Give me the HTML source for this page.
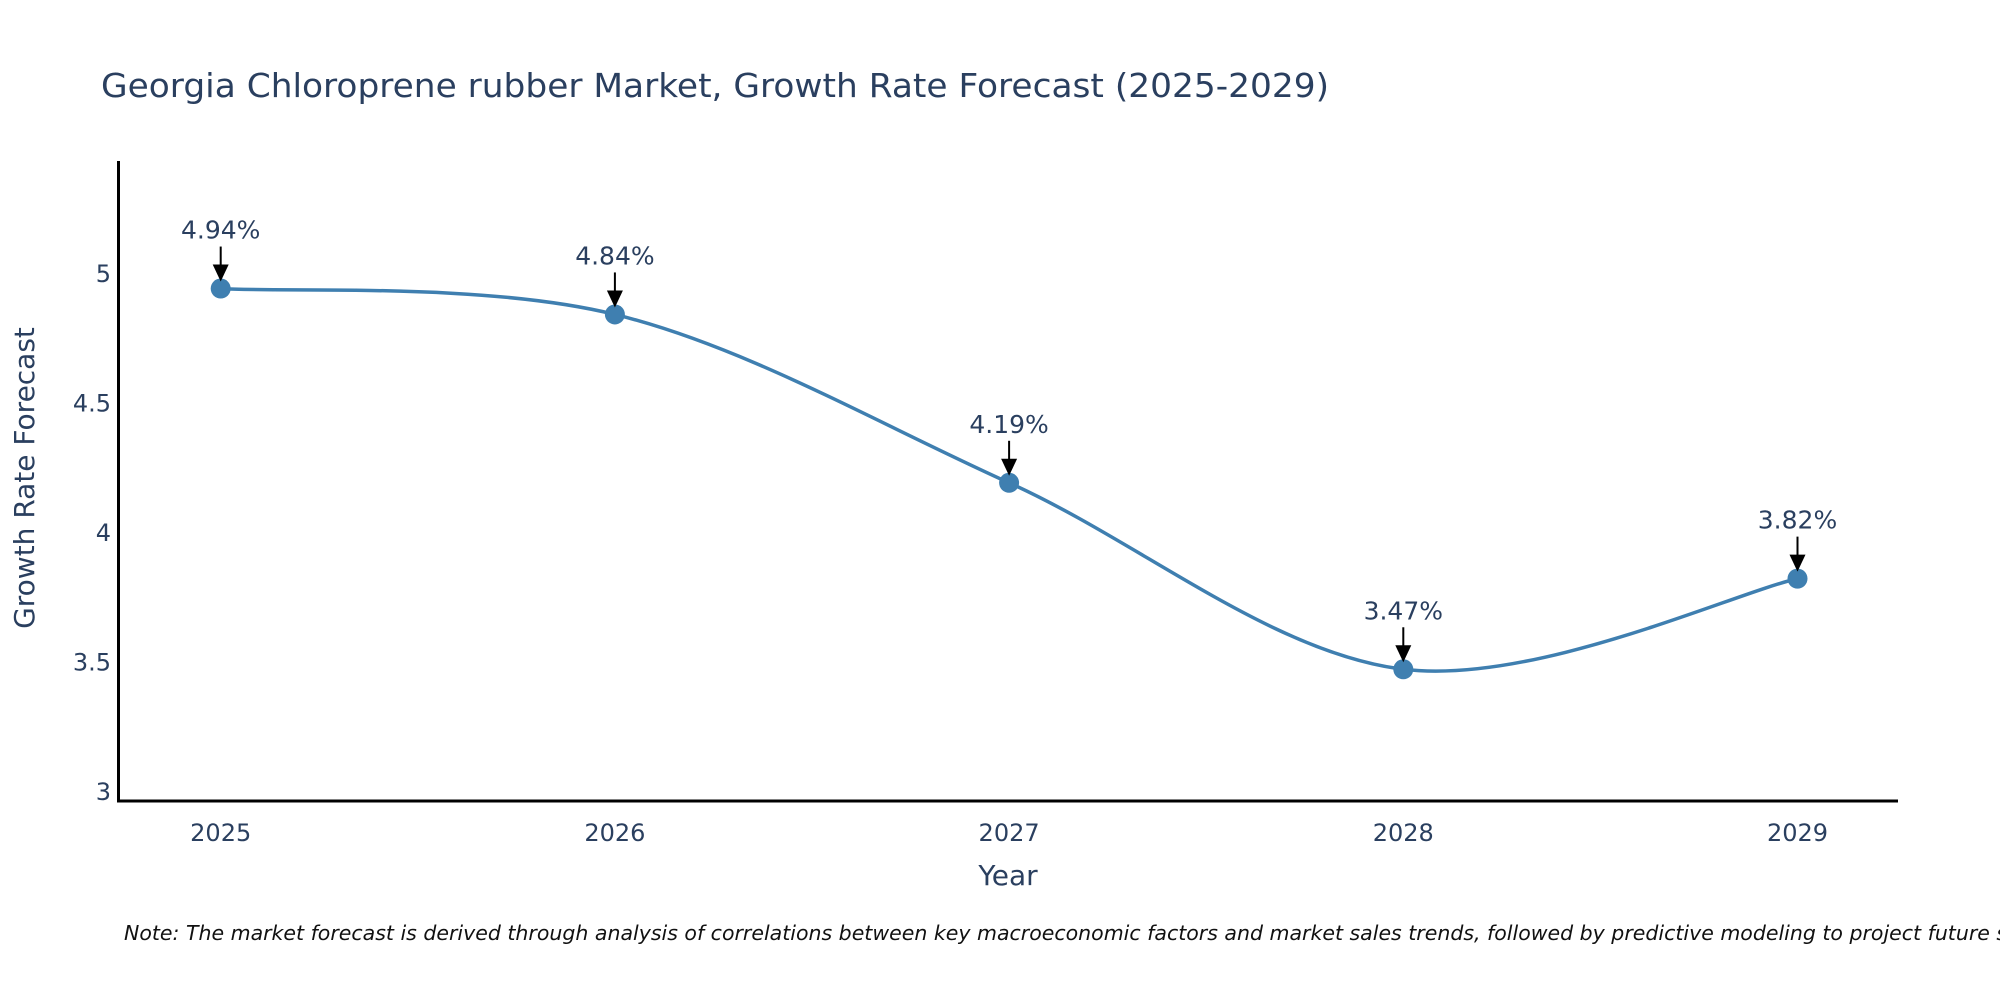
<!DOCTYPE html>
<html><head><meta charset="utf-8"><style>
html,body{margin:0;padding:0;background:#fff;}
svg{display:block;font-family:"DejaVu Sans","Liberation Sans",sans-serif;}
</style></head><body>
<svg id="chart" width="2000" height="1000" viewBox="0 0 2000 1000">
<rect width="2000" height="1000" fill="#fff"/>
<text x="101" y="97" font-size="33" fill="#2a3f5f" textLength="1228" lengthAdjust="spacingAndGlyphs">Georgia Chloroprene rubber Market, Growth Rate Forecast (2025-2029)</text>
<g id="yticks"></g>
<g id="xticks"></g>
<g id="series"></g>
<line x1="118.5" y1="161" x2="118.5" y2="802" stroke="#000" stroke-width="3"/>
<line x1="117" y1="801" x2="1898" y2="801" stroke="#000" stroke-width="3"/>
<text x="1008" y="885" font-size="28" fill="#2a3f5f" text-anchor="middle">Year</text>
<text x="0" y="0" font-size="28" fill="#2a3f5f" text-anchor="middle" transform="translate(34,478) rotate(-90)">Growth Rate Forecast</text>
<text x="124" y="940" font-size="20.5" font-style="italic" fill="#111">Note: The market forecast is derived through analysis of correlations between key macroeconomic factors and market sales trends, followed by predictive modeling to project future sales.</text>
</svg>
<script>
const years = [2025, 2026, 2027, 2028, 2029];
const growth = [4.94, 4.84, 4.19, 3.47, 3.82];
const yTickValues = [3, 3.5, 4, 4.5, 5];
const yTickLabels = ["3", "3.5", "4", "4.5", "5"];

const NS = "http://www.w3.org/2000/svg";
function xScale(v){ return 220.7 + (v - 2025) * 394.2; }
function yScale(v){ return 791 - (v - 3) * 259; }
function mk(tag, attrs, parent){
  const e = document.createElementNS(NS, tag);
  for (const k in attrs) e.setAttribute(k, attrs[k]);
  parent.appendChild(e);
  return e;
}
const yt = document.getElementById('yticks');
yTickValues.forEach((v, i) => {
  const t = mk('text', {x: 111, y: yScale(v) + 9, 'font-size': 24, fill: '#2a3f5f', 'text-anchor': 'end'}, yt);
  
  
  t.textContent = yTickLabels[i];
});
const xt = document.getElementById('xticks');
years.forEach(y => {
  const t = mk('text', {x: xScale(y), y: 841, 'font-size': 24, fill: '#2a3f5f', 'text-anchor': 'middle'}, xt);
  
  
  t.textContent = String(y);
});
const g = document.getElementById('series');
const pts = years.map((y, i) => [xScale(y), yScale(growth[i])]);
let d = 'M' + pts[0][0] + ',' + pts[0][1];
const s = 0.5;
for (let i = 0; i < pts.length - 1; i++) {
  const p0 = pts[Math.max(i - 1, 0)], p1 = pts[i], p2 = pts[i + 1], p3 = pts[Math.min(i + 2, pts.length - 1)];
  const c1 = [p1[0] + (p2[0] - p0[0]) * s / 3, p1[1] + (p2[1] - p0[1]) * s / 3];
  const c2 = [p2[0] - (p3[0] - p1[0]) * s / 3, p2[1] - (p3[1] - p1[1]) * s / 3];
  d += ' C' + c1.join(',') + ' ' + c2.join(',') + ' ' + p2.join(',');
}
const line = mk('path', {d: d, fill: 'none', stroke: '#3f7fb0', 'stroke-width': 3.5}, g);


pts.forEach((p, i) => {
  const c = mk('circle', {cx: p[0], cy: p[1], r: 10, fill: '#3f7fb0'}, g);
  
  
  const a = mk('line', {x1: p[0], y1: p[1] - 42, x2: p[0], y2: p[1] - 22, stroke: '#000', 'stroke-width': 2}, g);
  
  
  const h = mk('polygon', {points: (p[0]-8)+','+(p[1]-24)+' '+(p[0]+8)+','+(p[1]-24)+' '+p[0]+','+(p[1]-7), fill: '#000'}, g);
  
  
  const t = mk('text', {x: p[0], y: p[1] - 50, 'font-size': 25, fill: '#2a3f5f', 'text-anchor': 'middle'}, g);
  
  
  t.textContent = growth[i].toFixed(2) + '%';
});
</script>
</body></html>
